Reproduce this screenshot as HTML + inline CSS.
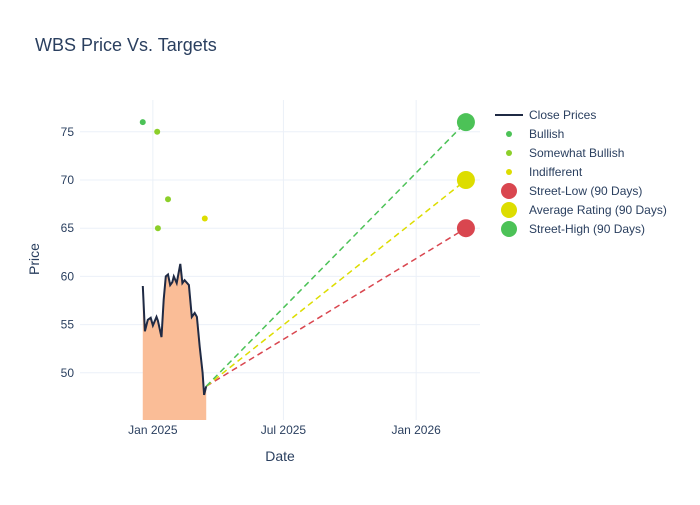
<!DOCTYPE html>
<html><head><meta charset="utf-8"><style>
body{margin:0;background:#fff;font-family:"Liberation Sans",sans-serif}
svg text{font-family:"Liberation Sans",sans-serif;fill:#2a3f5f}
</style></head><body>
<svg id="c" width="700" height="500" xmlns="http://www.w3.org/2000/svg">
<rect width="700" height="500" fill="#fff"/>
<text x="35" y="51" font-size="18">WBS Price Vs. Targets</text>
<g id="grid"></g><g id="marks"></g><g id="legend"></g>
<text x="280" y="461" font-size="14" text-anchor="middle">Date</text>
<text x="39" y="259" font-size="14" text-anchor="middle" transform="rotate(-90 39 259)">Price</text>
</svg>
<script>
const priceDates=["2024-12-18","2024-12-21","2024-12-25","2024-12-29","2025-01-01","2025-01-06","2025-01-08","2025-01-13","2025-01-16","2025-01-19","2025-01-22","2025-01-25","2025-01-28","2025-01-30","2025-02-03","2025-02-08","2025-02-11","2025-02-14","2025-02-20","2025-02-24","2025-02-28","2025-03-03","2025-03-07","2025-03-11","2025-03-13","2025-03-16"];
const priceValues=[59.0,54.3,55.5,55.7,54.9,55.8,55.4,53.7,57.6,60.0,60.2,59.1,59.4,60.0,59.3,61.3,59.3,59.6,59.1,55.8,56.2,55.8,52.7,50.0,47.7,48.6];
const bullishDates=["2024-12-18"];const bullishValues=[76];
const sbDates=["2025-01-07","2025-01-08","2025-01-22"];const sbValues=[75,65,68];
const indDates=["2025-03-14"];const indValues=[66];
const targetDate="2026-03-11";
const targetLow=65,targetAvg=70,targetHigh=76;
const yTicks=[50,55,60,65,70,75];
const xTicks=["2025-01-01","2025-07-01","2026-01-01"];
const xTickLabels=["Jan 2025","Jul 2025","Jan 2026"];

const NS="http://www.w3.org/2000/svg";
const L=80,R=480,T=100,B=420;
const d0=Date.UTC(2025,0,1);
function days(s){const p=s.split("-");return (Date.UTC(+p[0],p[1]-1,+p[2])-d0)/864e5;}
const xMin=-101,xMax=453.5,yMin=45.1,yMax=78.3;
function X(s){return L+(days(s)-xMin)/(xMax-xMin)*(R-L);}
function Y(v){return B-(v-yMin)/(yMax-yMin)*(B-T);}
function el(tag,attrs,parent){const e=document.createElementNS(NS,tag);for(const k in attrs)e.setAttribute(k,attrs[k]);parent.appendChild(e);return e;}
const grid=document.getElementById("grid"),marks=document.getElementById("marks"),leg=document.getElementById("legend");
yTicks.forEach(v=>{
 const g=el("line",{x1:L,x2:R,y1:Y(v),y2:Y(v),stroke:"#ebf0f8","stroke-width":1},grid);
 
 
 const t=el("text",{x:L-6,y:Y(v)+4,"font-size":12,"text-anchor":"end"},grid);t.textContent=v;
 
 
});
xTicks.forEach((s,i)=>{
 const g=el("line",{x1:X(s),x2:X(s),y1:T,y2:B,stroke:"#ebf0f8","stroke-width":1},grid);
 
 
 const t=el("text",{x:X(s),y:B+14,"font-size":12,"text-anchor":"middle"},grid);t.textContent=xTickLabels[i];
 
 
});
let pts=priceDates.map((s,i)=>X(s).toFixed(1)+","+Y(priceValues[i]).toFixed(1));
const area=el("polygon",{points:X(priceDates[0])+","+B+" "+pts.join(" ")+" "+X(priceDates[priceDates.length-1])+","+B,fill:"#fabd97"},marks);


const lastD=priceDates[priceDates.length-1],lastV=priceValues[priceValues.length-1];
[[targetLow,"#d9464f","street-low-line"],[targetAvg,"#dddd00","average-line"],[targetHigh,"#4cc257","street-high-line"]].forEach(a=>{
 const l=el("line",{x1:X(lastD),y1:Y(lastV),x2:X(targetDate),y2:Y(a[0]),stroke:a[1],"stroke-width":1.5,"stroke-dasharray":"6,4"},marks);
 
 
});
const line=el("polyline",{points:pts.join(" "),fill:"none",stroke:"#1f2a44","stroke-width":2},marks);


function dots(ds,vs,c,r,name){ds.forEach((s,i)=>{const e=el("circle",{cx:X(s),cy:Y(vs[i]),r:r,fill:c},marks);
 
 });}
dots(bullishDates,bullishValues,"#4cc257",3,"bullish-point");
dots(sbDates,sbValues,"#8ccf2a",3,"somewhat-bullish-point");
dots(indDates,indValues,"#dddd00",3,"indifferent-point");
dots([targetDate],[targetLow],"#d9464f",9,"street-low-marker");
dots([targetDate],[targetAvg],"#dddd00",9,"average-rating-marker");
dots([targetDate],[targetHigh],"#4cc257",9,"street-high-marker");
const items=[["Close Prices","line","#1f2a44"],["Bullish",3,"#4cc257"],["Somewhat Bullish",3,"#8ccf2a"],["Indifferent",3,"#dddd00"],["Street-Low (90 Days)",8,"#d9464f"],["Average Rating (90 Days)",8,"#dddd00"],["Street-High (90 Days)",8,"#4cc257"]];
items.forEach((it,i)=>{
 const y=115+i*19;
 const g=el("g",{},leg);
 
 
 if(it[1]==="line")el("line",{x1:495,x2:523,y1:y,y2:y,stroke:it[2],"stroke-width":2},g);
 else el("circle",{cx:509,cy:y,r:it[1],fill:it[2]},g);
 const t=el("text",{x:529,y:y+4,"font-size":12},g);t.textContent=it[0];
});
</script>
</body></html>
